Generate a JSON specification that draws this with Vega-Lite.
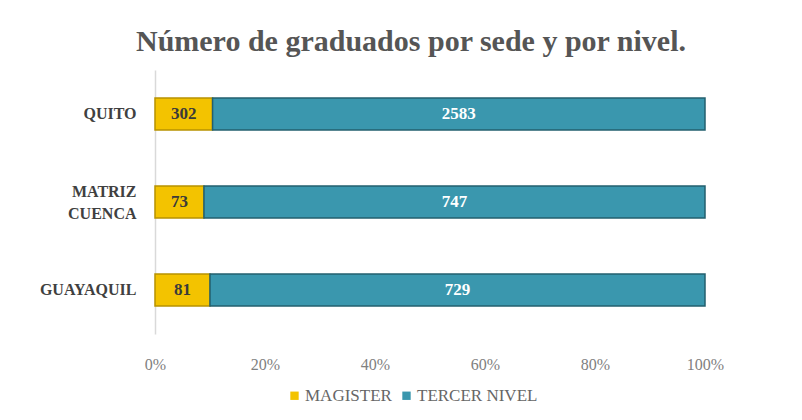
{
  "$schema": "https://vega.github.io/schema/vega-lite/v6.json",
  "width": 550,
  "height": 264,
  "autosize": {"type": "none"},
  "padding": {"left": 155, "top": 70, "right": 97, "bottom": 86},
  "background": "white",
  "title": {
    "text": "Número de graduados por sede y por nivel.",
    "font": "Liberation Serif",
    "fontSize": 30,
    "fontWeight": "bold",
    "color": "#555555",
    "anchor": "middle",
    "dx": -19,
    "offset": 13
  },
  "data": {
    "values": [
      {"sede": "QUITO", "nivel": "MAGISTER", "orden": 1, "graduados": 302},
      {"sede": "QUITO", "nivel": "TERCER NIVEL", "orden": 2, "graduados": 2583},
      {"sede": "MATRIZ CUENCA", "nivel": "MAGISTER", "orden": 1, "graduados": 73},
      {"sede": "MATRIZ CUENCA", "nivel": "TERCER NIVEL", "orden": 2, "graduados": 747},
      {"sede": "GUAYAQUIL", "nivel": "MAGISTER", "orden": 1, "graduados": 81},
      {"sede": "GUAYAQUIL", "nivel": "TERCER NIVEL", "orden": 2, "graduados": 729}
    ]
  },
  "transform": [
    {"stack": "graduados", "groupby": ["sede"], "sort": [{"field": "orden"}], "offset": "normalize", "as": ["x0", "x1"]},
    {"calculate": "(datum.x0 + datum.x1) / 2", "as": "xm"}
  ],
  "encoding": {
    "y": {
      "field": "sede",
      "type": "nominal",
      "sort": ["QUITO", "MATRIZ CUENCA", "GUAYAQUIL"],
      "scale": {"paddingInner": 0.636, "paddingOuter": 0.318},
      "axis": {
        "title": null,
        "ticks": false,
        "domainColor": "#d9d9d9",
        "domainWidth": 1.5,
        "labelPadding": 19,
        "labelFont": "Liberation Serif",
        "labelFontSize": 16,
        "labelFontWeight": "bold",
        "labelColor": "#404040",
        "labelLineHeight": 22,
        "labelOffset": {"condition": {"test": "datum.value == 'MATRIZ CUENCA'", "value": -10}, "value": 0},
        "labelExpr": "datum.value == 'MATRIZ CUENCA' ? ['MATRIZ', 'CUENCA'] : datum.value"
      }
    }
  },
  "layer": [
    {
      "mark": {"type": "bar", "strokeWidth": 1.5},
      "encoding": {
        "x": {
          "field": "x0",
          "type": "quantitative",
          "scale": {"domain": [0, 1]},
          "axis": {
            "title": null,
            "format": ".0%",
            "values": [0, 0.2, 0.4, 0.6, 0.8, 1],
            "grid": false,
            "ticks": false,
            "domain": false,
            "labelFlush": false,
            "labelPadding": 22,
            "labelFont": "Liberation Serif",
            "labelFontSize": 16,
            "labelColor": "#808080"
          }
        },
        "x2": {"field": "x1"},
        "color": {
          "field": "nivel",
          "type": "nominal",
          "scale": {"domain": ["MAGISTER", "TERCER NIVEL"], "range": ["#F3C300", "#3A97AE"]},
          "legend": {
            "title": null,
            "orient": "none",
            "direction": "horizontal",
            "legendX": 131,
            "legendY": 317,
            "symbolType": "square",
            "symbolSize": 70,
            "symbolStrokeWidth": 0,
            "labelFont": "Liberation Serif",
            "labelFontSize": 17,
            "labelColor": "#666666",
            "labelOffset": 2,
            "columnPadding": 6
          }
        },
        "stroke": {
          "field": "nivel",
          "type": "nominal",
          "scale": {"domain": ["MAGISTER", "TERCER NIVEL"], "range": ["#B89200", "#23606F"]},
          "legend": null
        }
      }
    },
    {
      "mark": {"type": "text", "font": "Liberation Serif", "fontSize": 17, "fontWeight": "bold", "baseline": "middle", "align": "center"},
      "encoding": {
        "x": {"field": "xm", "type": "quantitative"},
        "text": {"field": "graduados", "type": "quantitative"},
        "color": {
          "field": "nivel",
          "type": "nominal",
          "scale": {"domain": ["MAGISTER", "TERCER NIVEL"], "range": ["#3a3a3a", "#ffffff"]},
          "legend": null
        }
      }
    }
  ],
  "resolve": {"scale": {"color": "independent"}},
  "config": {"view": {"stroke": null}}
}
